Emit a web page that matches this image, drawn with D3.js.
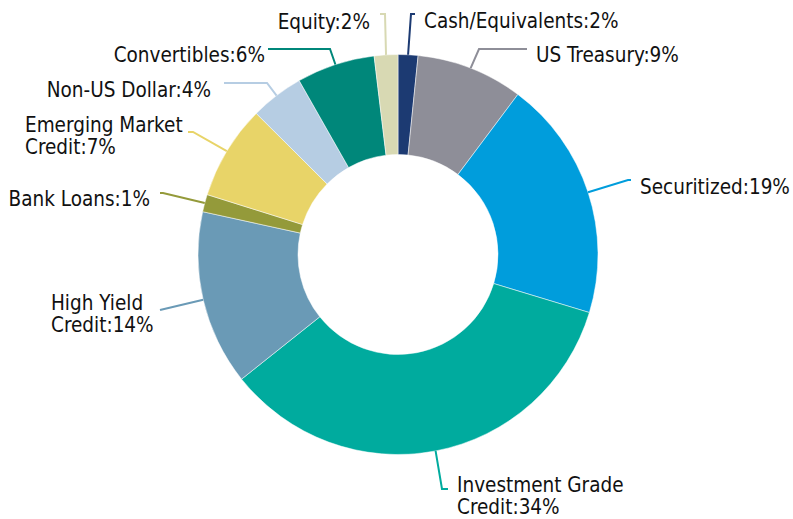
<!DOCTYPE html>
<html>
<head>
<meta charset="utf-8">
<script src="https://cdn.jsdelivr.net/npm/d3@7"></script>
<style>
    html, body { margin: 0; padding: 0; background: #fff; }
    svg { display: block; }
    .label { font-family: "DejaVu Sans Condensed", "DejaVu Sans", sans-serif; font-size: 20.5px; fill: #111; }
</style>
</head>
<body>
<svg id="chart" width="793" height="519"></svg>
<script>
// Slices, clockwise from 12 o'clock
var Categories = ["Cash/Equivalents", "US Treasury", "Securitized", "Investment Grade Credit", "High Yield Credit",
    "Bank Loans", "Emerging Market Credit", "Non-US Dollar", "Convertibles", "Equity"];
var Values = [1.6, 8.6, 19.4, 34.5, 14.1, 1.4, 7.6, 4.3, 6.3, 1.9];
var LabelTexts = [["Cash/Equivalents:2%"], ["US Treasury:9%"], ["Securitized:19%"], ["Investment Grade", "Credit:34%"],
    ["High Yield", "Credit:14%"], ["Bank Loans:1%"], ["Emerging Market", "Credit:7%"], ["Non-US Dollar:4%"],
    ["Convertibles:6%"], ["Equity:2%"]];
var Colors = ["#1c3a72", "#8e8e98", "#009ddc", "#00ab9e", "#6a9ab6", "#949a3a", "#e8d468", "#b6cde3", "#00877a", "#d8d9b3"];

// Leader line elbows and label placement (page pixels)
var Layout = [
    { Elbow: [411, 14], End: [415, 14], X: 424, Y: 21, Anchor: "start" },
    { Elbow: [479, 49], End: [527, 49], X: 536, Y: 55, Anchor: "start" },
    { Elbow: [628, 180], End: [631, 180], X: 640, Y: 187, Anchor: "start" },
    { Elbow: [442, 489], End: [448, 489], X: 457, Y: 485, Anchor: "start" },
    { Elbow: [160, 310], End: [160, 310], X: 51, Y: 303, Anchor: "start" },
    { Elbow: [163, 193], End: [160, 193], X: 150, Y: 199, Anchor: "end" },
    { Elbow: [193, 132], End: [188, 132], X: 25, Y: 125, Anchor: "start" },
    { Elbow: [267, 83], End: [224, 83], X: 211, Y: 90, Anchor: "end" },
    { Elbow: [330, 49], End: [268, 49], X: 265, Y: 55, Anchor: "end" },
    { Elbow: [385, 14], End: [380, 14], X: 370, Y: 22, Anchor: "end" }
];

var CenterX = 398, CenterY = 254.5;
var Outer = 200, Inner = 100;
var LineHeight = 21.5;

var SVG = d3.select("#chart");
var Chart = SVG.append("g").attr("transform", `translate(${CenterX},${CenterY})`);

var Pie = d3.pie().sort(null).value((D, I) => Values[I]);
var Arcs = Pie(Categories);
var Arc = d3.arc().innerRadius(Inner).outerRadius(Outer);

// Draw the slices
Chart.selectAll("path.slice")
    .data(Arcs)
    .enter()
    .append("path")
        .attr("class", "slice")
        .attr("d", Arc)
        .attr("fill", (D, I) => Colors[I])
        .attr("stroke", "#fff")
        .attr("stroke-width", 0.5);

// Leader lines start at the outer edge, at the middle angle of each slice
var Leaders = SVG.append("g");
Arcs.forEach((D, I) => {
    var Angle = (D.startAngle + D.endAngle) / 2;
    var Start = [CenterX + Outer * Math.sin(Angle), CenterY - Outer * Math.cos(Angle)];
    var L = Layout[I];
    Leaders.append("path")
        .attr("d", d3.line()([Start, L.Elbow, L.End]))
        .attr("fill", "none")
        .attr("stroke", Colors[I])
        .attr("stroke-width", 2);
});

// Labels
var Labels = SVG.append("g");
LabelTexts.forEach((Lines, I) => {
    var L = Layout[I];
    var Text = Labels.append("text")
        .attr("class", "label")
        .attr("text-anchor", L.Anchor);
    Lines.forEach((Line, J) => {
        Text.append("tspan")
            .attr("x", L.X)
            .attr("y", L.Y + J * LineHeight)
            .attr("dominant-baseline", "central")
            .text(Line);
    });
});
</script>
</body>
</html>
